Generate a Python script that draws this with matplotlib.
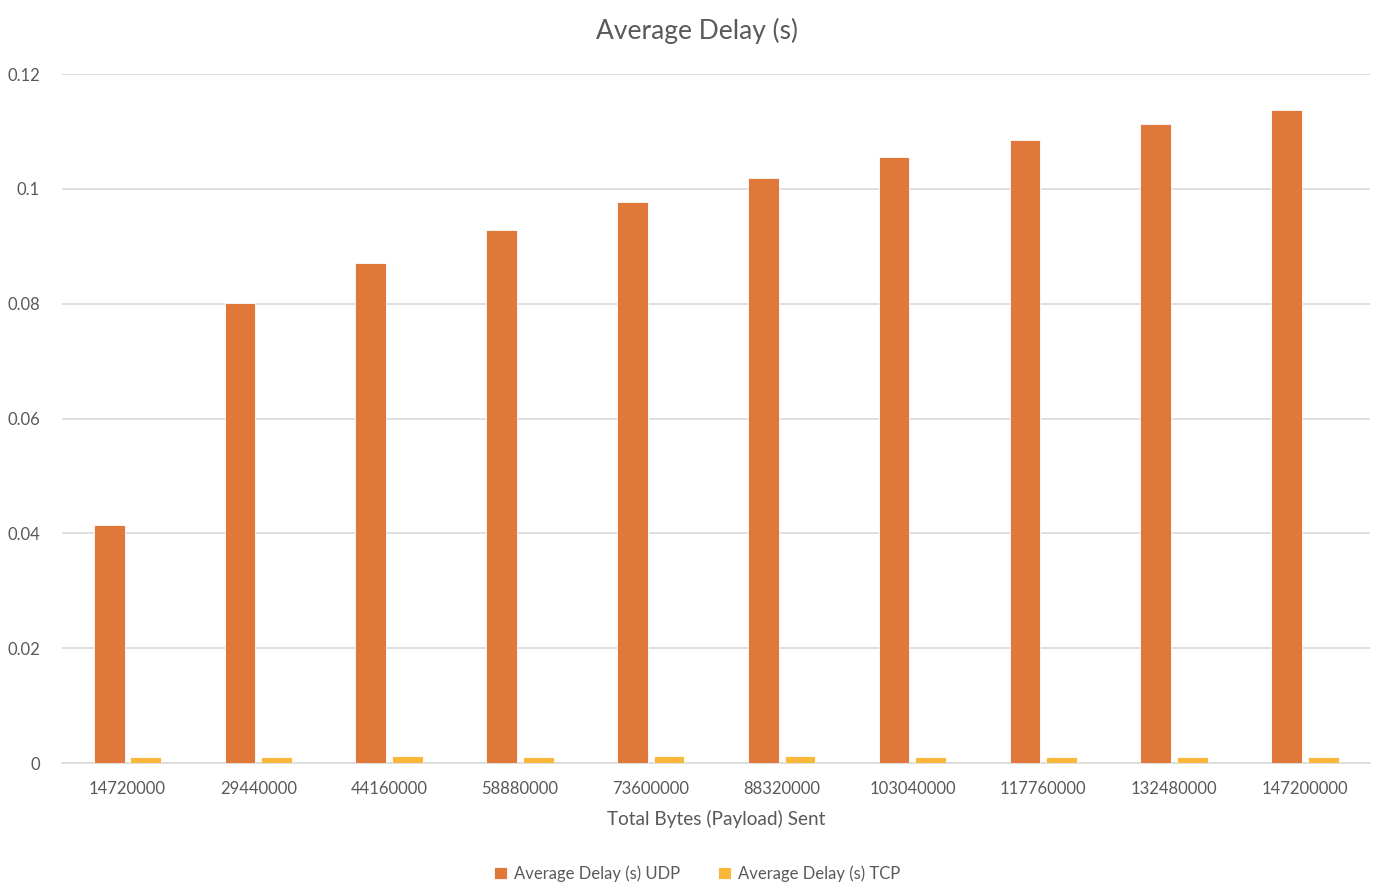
import numpy as np
import matplotlib
matplotlib.use('Agg')
from matplotlib import pyplot as plt

# data
categories = ['14720000', '29440000', '44160000', '58880000', '73600000',
              '88320000', '103040000', '117760000', '132480000', '147200000']
udp_delay = [0.0415, 0.0801, 0.0871, 0.0929, 0.0977, 0.1019, 0.1056, 0.1085, 0.1113, 0.1138]
tcp_delay = [0.0011, 0.0011, 0.00115, 0.0011, 0.00115, 0.00115, 0.0011, 0.0011, 0.0011, 0.0011]
y_ticks = [0, 0.02, 0.04, 0.06, 0.08, 0.1, 0.12]
y_tick_labels = ['0', '0.02', '0.04', '0.06', '0.08', '0.1', '0.12']

plt.rcParams['font.family'] = ['Lato', 'DejaVu Sans']
txt = '#595959'

fig = plt.figure(figsize=(13.94, 8.96), dpi=100)
ax = fig.add_axes([0.0445, 0.1484, 0.9385, 0.769])

x = np.arange(len(categories))
w = 0.235
ax.bar(x - 0.14, udp_delay, w, color='#E0783A', edgecolor='white', linewidth=0.6,
       label='Average Delay (s) UDP', zorder=3)
ax.bar(x + 0.14, tcp_delay, w, color='#F9B83A', edgecolor='white', linewidth=0.6,
       label='Average Delay (s) TCP', zorder=3)

ax.set_xlim(-0.5, len(categories) - 0.5)
ax.set_ylim(0, 0.12)
ax.set_yticks(y_ticks)
ax.set_yticklabels(y_tick_labels)
ax.set_xticks(x)
ax.set_xticklabels(categories)
ax.grid(axis='y', color='#D9D9D9', linewidth=1.2, zorder=0)
for s in ['top', 'right', 'left']:
    ax.spines[s].set_visible(False)
ax.spines['bottom'].set_color('#D9D9D9')
ax.spines['bottom'].set_linewidth(1.2)
ax.tick_params(axis='both', length=0, labelsize=12, colors=txt)
ax.tick_params(axis='x', pad=13)
ax.tick_params(axis='y', pad=16)

ax.set_xlabel('Total Bytes (Payload) Sent', fontsize=13.7, color=txt, labelpad=9)
fig.text(0.5, 0.965, 'Average Delay (s)', ha='center', va='center', fontsize=19, color=txt)

fig.legend(loc='center', bbox_to_anchor=(0.5, 0.025), ncol=2, frameon=False,
           fontsize=12, labelcolor=txt, handlelength=0.8, handleheight=0.8,
           columnspacing=2.3, handletextpad=0.4)

fig.savefig('out.png', dpi=100)
